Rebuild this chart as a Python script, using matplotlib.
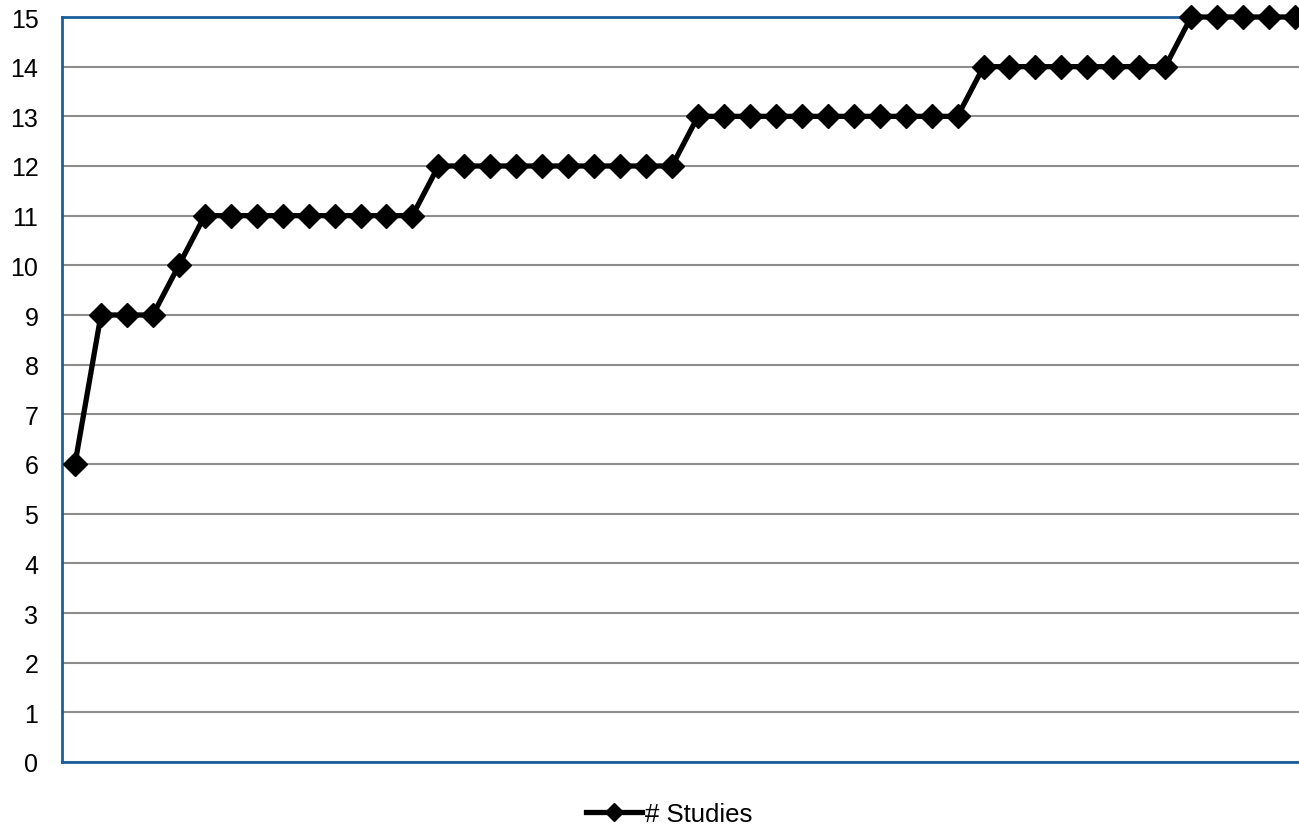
import matplotlib.pyplot as plt

# cumulative number of studies per period
studies = [6, 9, 9, 9, 10,
           11, 11, 11, 11, 11, 11, 11, 11, 11,
           12, 12, 12, 12, 12, 12, 12, 12, 12, 12,
           13, 13, 13, 13, 13, 13, 13, 13, 13, 13, 13,
           14, 14, 14, 14, 14, 14, 14, 14,
           15, 15, 15, 15, 15]
y_ticks = list(range(0, 16))

plt.rcParams['font.family'] = ['Liberation Sans', 'DejaVu Sans']

fig = plt.figure(figsize=(12.99, 8.28), dpi=100)
ax = fig.add_axes([62 / 1299, 65 / 828, 1246 / 1299, 745 / 828])

x = list(range(len(studies)))
line, = ax.plot(x, studies, color="black", linewidth=3.8, marker="D",
                markersize=12, label="# Studies", zorder=3, clip_on=False)

ax.set_xlim(-0.5, len(studies) - 0.5)
ax.set_ylim(0, 15)
ax.set_yticks(y_ticks)
ax.set_xticks([])
ax.tick_params(axis="y", length=0, pad=17, labelsize=18)
ax.yaxis.grid(True, color="#8c8c8c", linewidth=1.5)
ax.set_axisbelow(True)

for side in ["left", "bottom", "top", "right"]:
    ax.spines[side].set_color("#1a5f9c")
    ax.spines[side].set_linewidth(2)

fig.legend(handles=[line], loc="center", bbox_to_anchor=(669 / 1299, 1 - 815 / 828),
           frameon=False, fontsize=18.5, handlelength=2.2, handletextpad=0.1,
           markerscale=0.75)

fig.savefig("out.png", dpi=100)
